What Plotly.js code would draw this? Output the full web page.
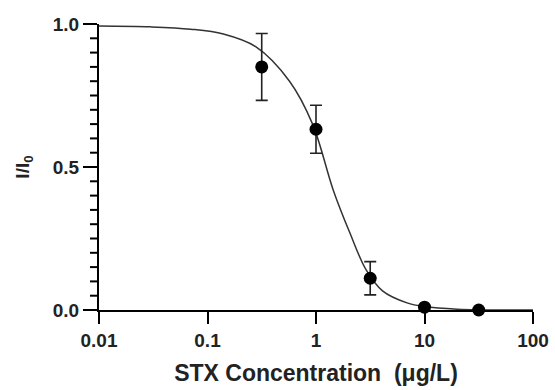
<!DOCTYPE html>
<html>
<head>
<meta charset="utf-8">
<script src="https://cdn.plot.ly/plotly-3.0.1.min.js"></script>
<style>html,body{margin:0;padding:0;background:#fff;}#chart{width:555px;height:390px;}</style>
</head>
<body>
<div id="chart"></div>
<script>
// measured points
const concX = [0.316, 1, 3.16, 10, 31.6];
const ratioY = [0.85, 0.632, 0.111, 0.01, 0.0];
const errY = [0.117, 0.084, 0.058, 0.0, 0.0];
// fitted curve
const fitX = [0.01, 0.03, 0.07, 0.14, 0.28, 0.57, 0.93, 1.44, 2.05, 2.9, 4.1, 6.9, 10, 20, 100];
const fitY = [0.993, 0.99, 0.982, 0.965, 0.92, 0.80, 0.65, 0.42, 0.27, 0.14, 0.067, 0.025, 0.012, 0.003, 0.0];
const xTickVals = [0.01, 0.1, 1, 10, 100];
const xTickText = ['0.01', '0.1', '1', '10', '100'];
const yMajorVals = [0, 0.5, 1];
const yMajorText = ['0.0', '0.5', '1.0'];
const yMinorVals = [0.05, 0.1, 0.15, 0.2, 0.25, 0.3, 0.35, 0.4, 0.45,
                    0.55, 0.6, 0.65, 0.7, 0.75, 0.8, 0.85, 0.9, 0.95];

const fam = 'Liberation Sans, Arial, sans-serif';
const plotW = 555 - 99 - 22;

const traces = [
  {
    x: fitX, y: fitY, type: 'scatter', mode: 'lines',
    line: {color: '#333', width: 1.5, shape: 'spline', smoothing: 1.0},
    hoverinfo: 'skip', cliponaxis: false
  },
  {
    x: concX, y: ratioY, type: 'scatter', mode: 'markers',
    marker: {color: '#000', size: 13},
    error_y: {type: 'data', array: errY, visible: true, color: '#222', thickness: 1.6, width: 6},
    cliponaxis: false
  }
];

// minor y ticks: short strokes just outside the y axis line
const minorTicks = yMinorVals.map(v => ({
  type: 'line', xref: 'paper', yref: 'y',
  x0: -9 / plotW, x1: -1 / plotW, y0: v, y1: v,
  line: {color: '#000', width: 2}, layer: 'above'
}));

const layout = {
  width: 555, height: 390,
  margin: {l: 99, r: 22, t: 24, b: 80},
  paper_bgcolor: '#fff', plot_bgcolor: '#fff',
  showlegend: false,
  font: {family: fam, color: '#222'},
  shapes: minorTicks,
  xaxis: {
    type: 'log', range: [-2, 2],
    tickvals: xTickVals, ticktext: xTickText,
    ticks: 'outside', ticklen: 12, tickwidth: 2, tickcolor: '#000',
    showline: true, linecolor: '#000', linewidth: 2,
    showgrid: false, zeroline: false,
    tickfont: {family: fam, size: 19, color: '#222', weight: 'bold'},
    title: {text: 'STX Concentration\u00a0\u00a0(\u03bcg/L)', standoff: 15,
            font: {family: fam, size: 23, color: '#222', weight: 'bold'}}
  },
  yaxis: {
    range: [0, 1],
    tickmode: 'array', tickvals: yMajorVals, ticktext: yMajorText,
    ticks: 'outside', ticklen: 14, tickwidth: 2, tickcolor: '#000',
    showline: true, linecolor: '#000', linewidth: 2,
    showgrid: false, zeroline: false,
    tickfont: {family: fam, size: 19, color: '#222', weight: 'bold'},
    title: {text: 'I/I<sub>0</sub>', standoff: 18,
            font: {family: fam, size: 19, color: '#222', weight: 'bold'}}
  }
};

Plotly.newPlot('chart', traces, layout, {displayModeBar: false, staticPlot: true});
</script>
</body>
</html>
